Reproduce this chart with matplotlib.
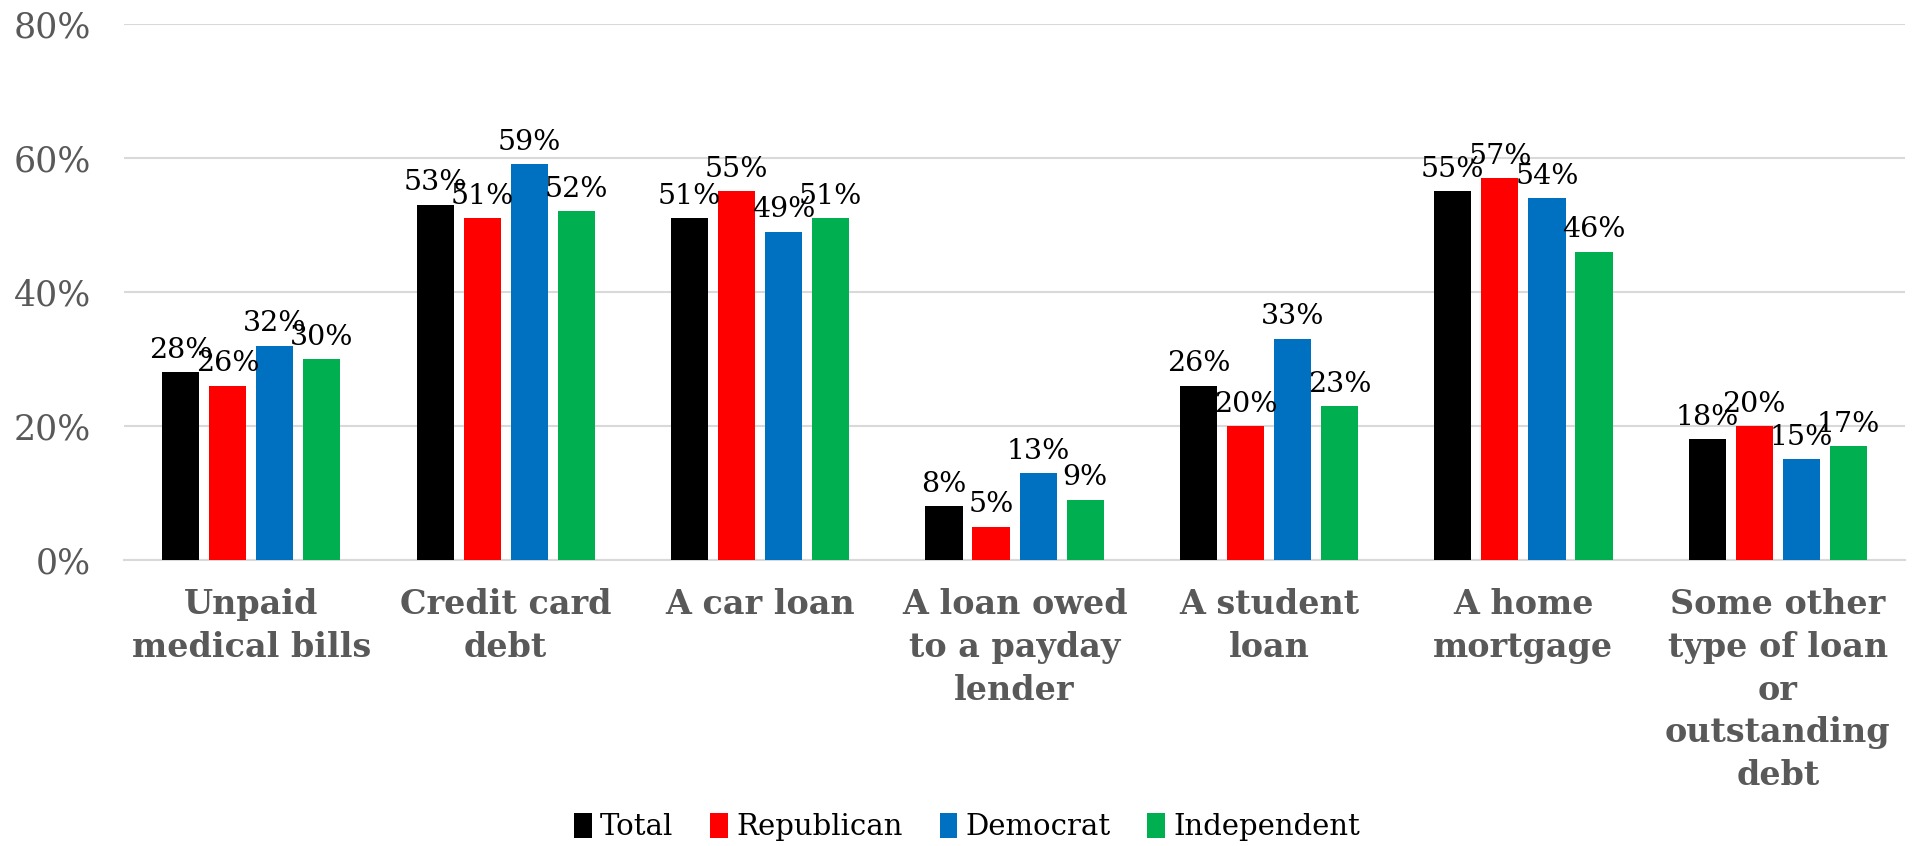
import matplotlib.pyplot as plt
import numpy as np

categories = ["Unpaid\nmedical bills", "Credit card\ndebt", "A car loan",
              "A loan owed\nto a payday\nlender", "A student\nloan", "A home\nmortgage",
              "Some other\ntype of loan\nor\noutstanding\ndebt"]
series = ["Total", "Republican", "Democrat", "Independent"]
total = [28, 53, 51, 8, 26, 55, 18]
republican = [26, 51, 55, 5, 20, 57, 20]
democrat = [32, 59, 49, 13, 33, 54, 15]
independent = [30, 52, 51, 9, 23, 46, 17]
colors = ["#000000", "#FF0000", "#0070C0", "#00B050"]

fig = plt.figure(figsize=(19.15, 8.46), dpi=100)
ax = fig.add_axes([0.0648, 0.338, 0.930, 0.634])

x = np.arange(len(categories))
width = 0.146
step = 0.185
for i, (name, vals) in enumerate(zip(series, [total, republican, democrat, independent])):
    pos = x + (i - 1.5) * step
    bars = ax.bar(pos, vals, width, color=colors[i], label=name, zorder=3)
    for b, v in zip(bars, vals):
        ax.annotate(f"{v}%", (b.get_x() + b.get_width() / 2, v), xytext=(0, 6),
                    textcoords="offset points", ha="center", va="bottom",
                    fontsize=20.5, family="DejaVu Serif", color="black", zorder=4)

ax.set_ylim(0, 80)
ax.set_xlim(-0.5, len(categories) - 0.5)
ax.set_yticks([0, 20, 40, 60, 80])
ax.set_yticklabels([f"{t}%" for t in [0, 20, 40, 60, 80]], fontsize=25,
                   family="DejaVu Serif", color="#595959")
ax.set_xticks(x)
ax.set_xticklabels(categories, fontsize=24, family="DejaVu Serif", fontweight="bold",
                   color="#595959", linespacing=1.38, va="top")
ax.tick_params(axis="y", length=0, pad=24)
ax.tick_params(axis="x", length=0, pad=20)
ax.grid(axis="y", color="#D9D9D9", linewidth=1.5, zorder=0)
for s in ["top", "right", "left"]:
    ax.spines[s].set_visible(False)
ax.spines["bottom"].set_color("#D9D9D9")
ax.spines["bottom"].set_linewidth(1.5)

leg = fig.legend(loc="center", bbox_to_anchor=(0.505, 0.022), ncol=4, frameon=False,
                 prop={"family": "DejaVu Serif", "size": 21}, handlelength=0.6,
                 handleheight=0.9, handletextpad=0.28, columnspacing=1.27)

plt.savefig("out.png", dpi=100)
